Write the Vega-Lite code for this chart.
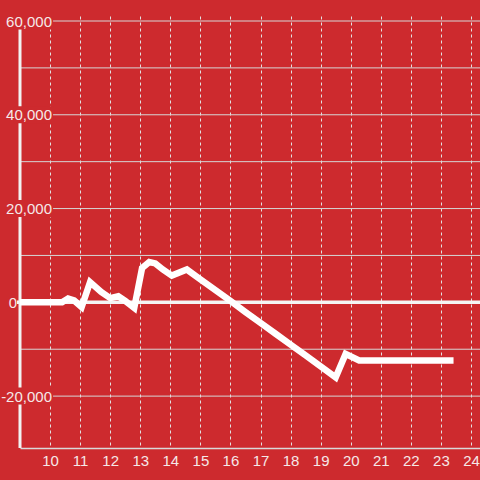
{
  "$schema": "https://vega.github.io/schema/vega-lite/v6.json",
  "width": 460,
  "height": 432,
  "autosize": {"type": "none"},
  "padding": {"left": 20, "top": 16, "right": 0, "bottom": 32},
  "background": "#cd2a2e",
  "config": {
    "view": {"stroke": null},
    "font": "Liberation Sans",
    "axis": {"labelOverlap": false}
  },
  "datasets": {
    "series": [
      {"x": 9.0, "y": 0},
      {"x": 10.4, "y": 0},
      {"x": 10.6, "y": 800},
      {"x": 10.8, "y": 400},
      {"x": 11.05, "y": -1000},
      {"x": 11.33, "y": 4300},
      {"x": 11.7, "y": 2200},
      {"x": 12.0, "y": 900},
      {"x": 12.27, "y": 1300},
      {"x": 12.5, "y": 300},
      {"x": 12.8, "y": -1200},
      {"x": 13.06, "y": 7300},
      {"x": 13.3, "y": 8600},
      {"x": 13.5, "y": 8300},
      {"x": 13.75, "y": 7000},
      {"x": 14.05, "y": 5700},
      {"x": 14.55, "y": 7000},
      {"x": 15.0, "y": 4900},
      {"x": 15.5, "y": 2600},
      {"x": 16.0, "y": 300},
      {"x": 16.5, "y": -2100},
      {"x": 17.0, "y": -4400},
      {"x": 17.5, "y": -6700},
      {"x": 18.0, "y": -9000},
      {"x": 18.5, "y": -11300},
      {"x": 19.0, "y": -13650},
      {"x": 19.5, "y": -16000},
      {"x": 19.83, "y": -11000},
      {"x": 20.28, "y": -12400},
      {"x": 23.42, "y": -12400}
    ],
    "grid": [
      {"v": -20000}, {"v": -10000}, {"v": 10000}, {"v": 20000},
      {"v": 30000}, {"v": 40000}, {"v": 50000}, {"v": 60000}
    ],
    "masks": [
      {"v": 60000}, {"v": 40000}, {"v": 20000}, {"v": -20000}
    ]
  },
  "layer": [
    {
      "data": {"name": "grid"},
      "mark": {"type": "rule", "color": "#d6d6d6", "strokeWidth": 1},
      "encoding": {
        "y": {"field": "v", "type": "quantitative", "title": null}
      }
    },
    {
      "data": {"values": [{}]},
      "mark": {"type": "rule", "color": "#f2f2f2", "strokeWidth": 3},
      "encoding": {
        "x": {
          "datum": 9, "type": "quantitative", "title": null,
          "axis": {
            "values": [10, 11, 12, 13, 14, 15, 16, 17, 18, 19, 20, 21, 22, 23, 24],
            "tickCount": 16,
            "labelExpr": "datum.value < 9.5 ? '' : datum.label",
            "grid": true, "gridDash": [3, 3], "gridColor": "#e2e2e2", "gridWidth": 1,
            "domain": true, "domainColor": "#d9d9d9", "domainWidth": 1.5,
            "ticks": false, "tickSize": 0,
            "labelColor": "#f5e8e8", "labelFont": "Liberation Sans", "labelFontSize": 15,
            "labelPadding": 5, "labelOverlap": false, "labelFlush": false,
            "zindex": 0
          }
        }
      }
    },
    {
      "data": {"name": "masks"},
      "mark": {"type": "bar", "color": "#cd2a2e", "orient": "horizontal", "size": 17},
      "encoding": {
        "x": {"datum": 8.8, "type": "quantitative", "title": null},
        "x2": {"datum": 10.1},
        "y": {"field": "v", "type": "quantitative", "title": null}
      }
    },
    {
      "data": {"values": [{}]},
      "mark": {"type": "rule", "color": "#f4f4f4", "strokeWidth": 3.5},
      "encoding": {
        "x": {"datum": 8.9, "type": "quantitative", "title": null},
        "x2": {"datum": 24.3},
        "y": {"datum": 0, "type": "quantitative", "title": null}
      }
    },
    {
      "data": {"name": "series"},
      "mark": {"type": "line", "color": "#ffffff", "strokeWidth": 6.5},
      "encoding": {
        "x": {
          "field": "x", "type": "quantitative", "title": null,
          "scale": {"domain": [9, 24.3], "nice": false, "zero": false},
          "axis": {
            "values": [10, 11, 12, 13, 14, 15, 16, 17, 18, 19, 20, 21, 22, 23, 24],
            "tickCount": 16,
            "labelExpr": "datum.value < 9.5 ? '' : datum.label",
            "grid": true, "gridDash": [3, 3], "gridColor": "#e2e2e2", "gridWidth": 1,
            "domain": true, "domainColor": "#d9d9d9", "domainWidth": 1.5,
            "ticks": false, "tickSize": 0,
            "labelColor": "#f5e8e8", "labelFont": "Liberation Sans", "labelFontSize": 15,
            "labelPadding": 5, "labelOverlap": false, "labelFlush": false,
            "zindex": 0
          }
        },
        "y": {
          "field": "y", "type": "quantitative", "title": null,
          "scale": {"domain": [-30000, 60000], "nice": false, "zero": false},
          "axis": {
            "values": [-20000, 0, 20000, 40000, 60000],
            "labelExpr": "(datum.value < 0 ? '-' : '') + format(abs(datum.value), ',')",
            "grid": false, "domain": false, "ticks": false, "tickSize": 0,
            "labelColor": "#f5e8e8", "labelFont": "Liberation Sans", "labelFontSize": 15,
            "labelAlign": "right", "labelBaseline": "middle",
            "labelOverlap": false, "labelFlush": false, "labelLimit": 0,
            "labelPadding": {"condition": {"test": "datum.value === 0", "value": 3.5}, "value": -31.5},
            "zindex": 1
          }
        }
      }
    }
  ]
}
